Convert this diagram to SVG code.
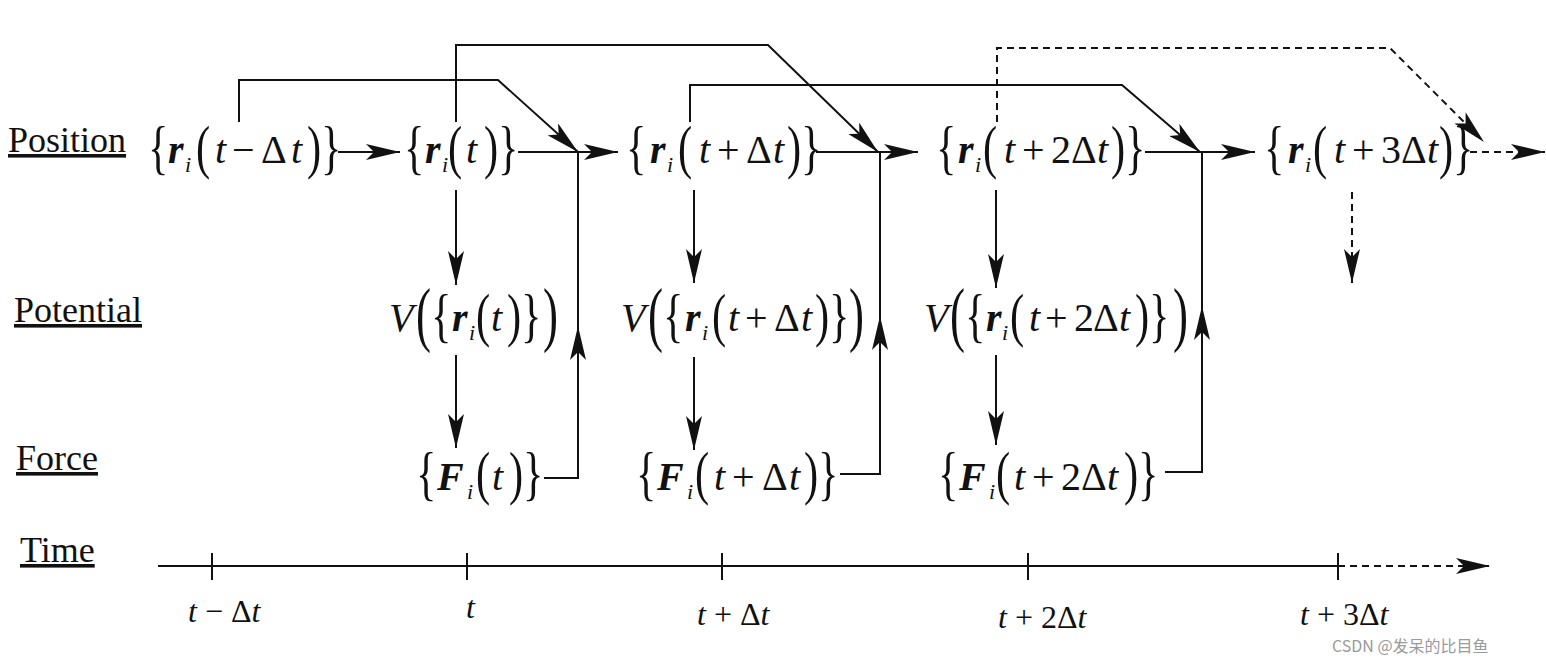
<svg xmlns="http://www.w3.org/2000/svg" width="1546" height="662" viewBox="0 0 1546 662">
<style>
.m{font-family:"Liberation Serif","Times New Roman",serif;font-size:40px;fill:#111}
.it{font-style:italic}
.bi{font-style:italic;font-weight:bold}
.sub{font-size:22px;font-style:italic}
.dl{font-family:"Liberation Serif","Times New Roman",serif;font-size:50px;fill:#111}
.lbl{font-family:"Liberation Serif","Times New Roman",serif;font-size:36px;fill:#111;text-decoration:underline}
.tl{font-family:"Liberation Serif","Times New Roman",serif;font-size:32px;fill:#111}
.c{fill:none;stroke:#111;stroke-width:2}
.dash{stroke-dasharray:7 5}
.wm{font-family:"Noto Sans CJK SC","Liberation Sans",sans-serif;font-size:16px;fill:#9a9a9a}
</style>
<defs>
<marker id="ah" markerUnits="userSpaceOnUse" viewBox="0 0 34 16" refX="34" refY="8" markerWidth="34" markerHeight="16" orient="auto">
<path d="M0,0 L34,8 L0,16 L8,8 Z" fill="#111"/>
</marker>
</defs>
<rect width="1546" height="662" fill="#fff"/>

<g id="labels">
<text class="lbl" x="8" y="152">Position</text>
<text class="lbl" x="14" y="322">Potential</text>
<text class="lbl" x="16" y="470">Force</text>
<text class="lbl" x="20" y="562">Time</text>
</g>

<g id="pos0">
<text class="dl" transform="translate(148,167) scale(0.85,1.2)">{</text>
<text class="dl" transform="translate(196,167) scale(0.85,1.2)">(</text>
<text class="dl" transform="translate(307,167) scale(0.85,1.2)">)</text>
<text class="dl" transform="translate(321,167) scale(0.85,1.2)">}</text>
<text class="m"><tspan class="bi" x="168" y="163">r</tspan><tspan class="sub" x="185" y="172">i</tspan><tspan class="it" x="215" y="163">t</tspan><tspan x="232" y="163">−</tspan><tspan x="261" y="163">Δ</tspan><tspan class="it" x="291" y="163">t</tspan></text>
</g>

<g id="pos1">
<text class="dl" transform="translate(404,167) scale(0.85,1.2)">{</text>
<text class="dl" transform="translate(448,167) scale(0.85,1.2)">(</text>
<text class="dl" transform="translate(484,167) scale(0.85,1.2)">)</text>
<text class="dl" transform="translate(498,167) scale(0.85,1.2)">}</text>
<text class="m"><tspan class="bi" x="425" y="163">r</tspan><tspan class="sub" x="442" y="172">i</tspan><tspan class="it" x="466" y="163">t</tspan></text>
</g>

<g id="pos2">
<text class="dl" transform="translate(626,167) scale(0.85,1.2)">{</text>
<text class="dl" transform="translate(678,167) scale(0.85,1.2)">(</text>
<text class="dl" transform="translate(787,167) scale(0.85,1.2)">)</text>
<text class="dl" transform="translate(801,167) scale(0.85,1.2)">}</text>
<text class="m"><tspan class="bi" x="650" y="163">r</tspan><tspan class="sub" x="667" y="172">i</tspan><tspan class="it" x="699" y="163">t</tspan><tspan x="717" y="163">+</tspan><tspan x="746" y="163">Δ</tspan><tspan class="it" x="773" y="163">t</tspan></text>
</g>

<g id="pos3">
<text class="dl" transform="translate(936,167) scale(0.85,1.2)">{</text>
<text class="dl" transform="translate(983,167) scale(0.85,1.2)">(</text>
<text class="dl" transform="translate(1111,167) scale(0.85,1.2)">)</text>
<text class="dl" transform="translate(1125,167) scale(0.85,1.2)">}</text>
<text class="m"><tspan class="bi" x="958" y="163">r</tspan><tspan class="sub" x="975" y="172">i</tspan><tspan class="it" x="1004" y="163">t</tspan><tspan x="1022" y="163">+</tspan><tspan x="1051" y="163">2</tspan><tspan x="1071" y="163">Δ</tspan><tspan class="it" x="1097" y="163">t</tspan></text>
</g>

<g id="pos4">
<text class="dl" transform="translate(1264,167) scale(0.85,1.2)">{</text>
<text class="dl" transform="translate(1313,167) scale(0.85,1.2)">(</text>
<text class="dl" transform="translate(1439,167) scale(0.85,1.2)">)</text>
<text class="dl" transform="translate(1453,167) scale(0.85,1.2)">}</text>
<text class="m"><tspan class="bi" x="1288" y="163">r</tspan><tspan class="sub" x="1305" y="172">i</tspan><tspan class="it" x="1334" y="163">t</tspan><tspan x="1352" y="163">+</tspan><tspan x="1381" y="163">3</tspan><tspan x="1401" y="163">Δ</tspan><tspan class="it" x="1427" y="163">t</tspan></text>
</g>

<g id="pot0">
<text class="dl" transform="translate(416,338) scale(0.9,1.45)">(</text>
<text class="dl" transform="translate(431,335) scale(0.85,1.2)">{</text>
<text class="dl" transform="translate(476,335) scale(0.85,1.2)">(</text>
<text class="dl" transform="translate(507,335) scale(0.85,1.2)">)</text>
<text class="dl" transform="translate(521,335) scale(0.85,1.2)">}</text>
<text class="dl" transform="translate(543,338) scale(0.9,1.45)">)</text>
<text class="m"><tspan class="it" x="389" y="331">V</tspan><tspan class="bi" x="452" y="331">r</tspan><tspan class="sub" x="469" y="340">i</tspan><tspan class="it" x="491" y="331">t</tspan></text>
</g>

<g id="pot1">
<text class="dl" transform="translate(648,338) scale(0.9,1.45)">(</text>
<text class="dl" transform="translate(663,335) scale(0.85,1.2)">{</text>
<text class="dl" transform="translate(712,335) scale(0.85,1.2)">(</text>
<text class="dl" transform="translate(815,335) scale(0.85,1.2)">)</text>
<text class="dl" transform="translate(829,335) scale(0.85,1.2)">}</text>
<text class="dl" transform="translate(849,338) scale(0.9,1.45)">)</text>
<text class="m"><tspan class="it" x="621" y="331">V</tspan><tspan class="bi" x="685" y="331">r</tspan><tspan class="sub" x="702" y="340">i</tspan><tspan class="it" x="728" y="331">t</tspan><tspan x="745" y="331">+</tspan><tspan x="774" y="331">Δ</tspan><tspan class="it" x="801" y="331">t</tspan></text>
</g>

<g id="pot2">
<text class="dl" transform="translate(950,338) scale(0.9,1.45)">(</text>
<text class="dl" transform="translate(965,335) scale(0.85,1.2)">{</text>
<text class="dl" transform="translate(1010,335) scale(0.85,1.2)">(</text>
<text class="dl" transform="translate(1135,335) scale(0.85,1.2)">)</text>
<text class="dl" transform="translate(1149,335) scale(0.85,1.2)">}</text>
<text class="dl" transform="translate(1173,338) scale(0.9,1.45)">)</text>
<text class="m"><tspan class="it" x="924" y="331">V</tspan><tspan class="bi" x="986" y="331">r</tspan><tspan class="sub" x="1002" y="340">i</tspan><tspan class="it" x="1029" y="331">t</tspan><tspan x="1045" y="331">+</tspan><tspan x="1074" y="331">2</tspan><tspan x="1093" y="331">Δ</tspan><tspan class="it" x="1119" y="331">t</tspan></text>
</g>

<g id="force0">
<text class="dl" transform="translate(416,493) scale(0.85,1.2)">{</text>
<text class="dl" transform="translate(476,493) scale(0.85,1.2)">(</text>
<text class="dl" transform="translate(509,493) scale(0.85,1.2)">)</text>
<text class="dl" transform="translate(523,493) scale(0.85,1.2)">}</text>
<text class="m"><tspan class="bi" x="437" y="490">F</tspan><tspan class="sub" x="467" y="499">i</tspan><tspan class="it" x="492" y="490">t</tspan></text>
</g>

<g id="force1">
<text class="dl" transform="translate(636,493) scale(0.85,1.2)">{</text>
<text class="dl" transform="translate(695,493) scale(0.85,1.2)">(</text>
<text class="dl" transform="translate(804,493) scale(0.85,1.2)">)</text>
<text class="dl" transform="translate(818,493) scale(0.85,1.2)">}</text>
<text class="m"><tspan class="bi" x="657" y="490">F</tspan><tspan class="sub" x="687" y="499">i</tspan><tspan class="it" x="714" y="490">t</tspan><tspan x="732" y="490">+</tspan><tspan x="762" y="490">Δ</tspan><tspan class="it" x="789" y="490">t</tspan></text>
</g>

<g id="force2">
<text class="dl" transform="translate(938,493) scale(0.85,1.2)">{</text>
<text class="dl" transform="translate(996,493) scale(0.85,1.2)">(</text>
<text class="dl" transform="translate(1124,493) scale(0.85,1.2)">)</text>
<text class="dl" transform="translate(1138,493) scale(0.85,1.2)">}</text>
<text class="m"><tspan class="bi" x="959" y="490">F</tspan><tspan class="sub" x="989" y="499">i</tspan><tspan class="it" x="1014" y="490">t</tspan><tspan x="1032" y="490">+</tspan><tspan x="1061" y="490">2</tspan><tspan x="1081" y="490">Δ</tspan><tspan class="it" x="1107" y="490">t</tspan></text>
</g>

<g id="timeaxis">
<path class="c" d="M158,566 H1338"/>
<path class="c dash" d="M1338,566 H1490" marker-end="url(#ah)"/>
<path class="c" d="M212,553 V580 M467,553 V580 M722,553 V580 M1028,553 V580 M1338,553 V580"/>
<text class="tl" x="188" y="622"><tspan class="it">t</tspan> − Δ<tspan class="it">t</tspan></text>
<text class="tl it" x="466" y="618">t</text>
<text class="tl" x="697" y="625"><tspan class="it">t</tspan> + Δ<tspan class="it">t</tspan></text>
<text class="tl" x="998" y="628"><tspan class="it">t</tspan> + 2Δ<tspan class="it">t</tspan></text>
<text class="tl" x="1300" y="625"><tspan class="it">t</tspan> + 3Δ<tspan class="it">t</tspan></text>
</g>

<g id="connectors">
<path class="c" d="M338,152 H400" marker-end="url(#ah)"/>
<path class="c" d="M518,152 H618" marker-end="url(#ah)"/>
<path class="c" d="M816,152 H918" marker-end="url(#ah)"/>
<path class="c" d="M1145,152 H1255" marker-end="url(#ah)"/>
<path class="c dash" d="M1470,152 H1545" marker-end="url(#ah)"/>

<path class="c" d="M239,122 V80 H498 L578,152" marker-end="url(#ah)"/>
<path class="c" d="M456,122 V45 H768 L878,152" marker-end="url(#ah)"/>
<path class="c" d="M690,122 V85 H1122 L1200,152" marker-end="url(#ah)"/>
<path class="c dash" d="M997,122 V48 H1390 L1484,142" marker-end="url(#ah)"/>

<path class="c" d="M456,190 V285" marker-end="url(#ah)"/>
<path class="c" d="M456,355 V448" marker-end="url(#ah)"/>
<path class="c" d="M694,190 V283" marker-end="url(#ah)"/>
<path class="c" d="M694,357 V450" marker-end="url(#ah)"/>
<path class="c" d="M996,190 V288" marker-end="url(#ah)"/>
<path class="c" d="M996,355 V445" marker-end="url(#ah)"/>
<path class="c dash" d="M1352,192 V283" marker-end="url(#ah)"/>

<path class="c" d="M544,478 H578 V326" marker-end="url(#ah)"/>
<path class="c" d="M578,330 V152"/>
<path class="c" d="M840,474 H880 V316" marker-end="url(#ah)"/>
<path class="c" d="M880,320 V152"/>
<path class="c" d="M1165,472 H1202 V306" marker-end="url(#ah)"/>
<path class="c" d="M1202,310 V152"/>
</g>

<text class="wm" x="1332" y="652">CSDN @发呆的比目鱼</text>
</svg>
